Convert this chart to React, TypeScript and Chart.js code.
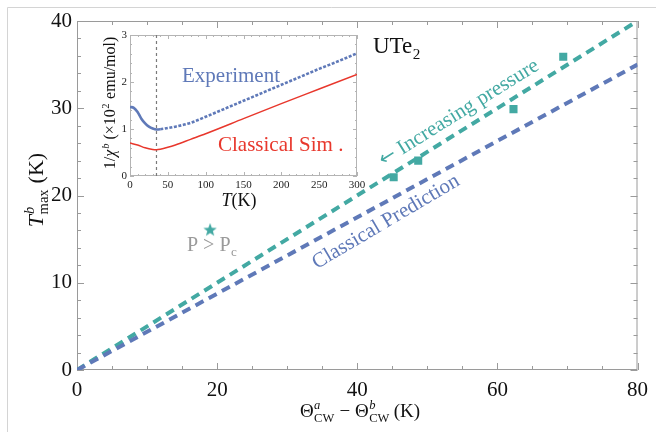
import React, { useEffect, useRef } from 'react';
import { Chart, registerables } from 'chart.js';
Chart.register(...registerables);

// ---------- main chart data ----------
const lineX = [0, 80];
const increasingLineY = [0, 40];
const classicalLineY = [0, 35];
const pressureX = [45.2, 48.7, 62.3, 69.4];
const pressureY = [22.1, 24.0, 29.9, 35.9];
const aboveX = [19.0];
const aboveY = [16.1];
const xTickLabels = [0, 20, 40, 60, 80];
const yTickLabels = [0, 10, 20, 30, 40];

// ---------- inset data ----------
const experimentT = [0, 5, 10, 15, 20, 25, 30, 35, 40, 50, 60, 80, 100, 125, 150, 175, 200, 225, 250, 275, 300];
const experimentChi = [1.47, 1.45, 1.36, 1.22, 1.12, 1.05, 1.01, 0.99, 0.995, 1.02, 1.05, 1.13, 1.26, 1.43, 1.6, 1.77, 1.94, 2.11, 2.28, 2.44, 2.61];
const simT = [0, 10, 20, 30, 35, 40, 50, 60, 80, 100, 150, 200, 250, 300];
const simChi = [0.7, 0.66, 0.6, 0.565, 0.56, 0.57, 0.61, 0.66, 0.78, 0.9, 1.22, 1.54, 1.85, 2.16];
const insetXTickLabels = [0, 50, 100, 150, 200, 250, 300];
const insetYTickLabels = [0, 1, 2, 3];
const minimumT = 35;

const TEAL = '#43a9a3';
const BLUE = '#5f79b8';
const RED = '#e8372c';
const FAM = "'Liberation Serif', 'DejaVu Serif', serif";

type Seg = { t: string; it?: boolean; sup?: string; supIt?: boolean; sub?: string; subIt?: boolean };

function fnt(size: number, it?: boolean) {
  return `${it ? 'italic ' : ''}${size}px ${FAM}`;
}

function segWidth(ctx: CanvasRenderingContext2D, s: Seg, base: number) {
  ctx.font = fnt(base, s.it);
  let w = ctx.measureText(s.t).width;
  const small = base * 0.66;
  let sw = 0;
  if (s.sup) { ctx.font = fnt(small, s.supIt); sw = Math.max(sw, ctx.measureText(s.sup).width); }
  if (s.sub) { ctx.font = fnt(small, s.subIt); sw = Math.max(sw, ctx.measureText(s.sub).width); }
  return w + sw + (sw ? 1 : 0);
}

function drawRich(ctx: CanvasRenderingContext2D, segs: Seg[], x: number, y: number, base: number, color: string, align: 'left' | 'center') {
  ctx.save();
  ctx.fillStyle = color;
  ctx.textBaseline = 'alphabetic';
  ctx.textAlign = 'left';
  const total = segs.reduce((a, s) => a + segWidth(ctx, s, base), 0);
  let cx = align === 'center' ? x - total / 2 : x;
  const small = base * 0.66;
  for (const s of segs) {
    ctx.font = fnt(base, s.it);
    ctx.fillText(s.t, cx, y);
    cx += ctx.measureText(s.t).width;
    let sw = 0;
    if (s.sup) {
      ctx.font = fnt(small, s.supIt);
      ctx.fillText(s.sup, cx + (s.it ? 1 : 0.5), y - base * 0.4);
      sw = Math.max(sw, ctx.measureText(s.sup).width);
    }
    if (s.sub) {
      ctx.font = fnt(small, s.subIt);
      ctx.fillText(s.sub, cx + 0.5, y + base * 0.24);
      sw = Math.max(sw, ctx.measureText(s.sub).width);
    }
    cx += sw + (sw ? 1 : 0);
  }
  ctx.restore();
}

function drawFrame(chart: any, color: string, xMajor: (v: number) => boolean, yMajor: (v: number) => boolean, majLen: number, minLen: number) {
  const { ctx, chartArea } = chart;
  const { left, right, top, bottom } = chartArea;
  ctx.save();
  ctx.strokeStyle = color;
  ctx.lineWidth = 1;
  ctx.strokeRect(left + 0.5, top + 0.5, right - left - 1, bottom - top - 1);
  ctx.beginPath();
  for (const t of chart.scales.x.ticks) {
    const p = Math.round(chart.scales.x.getPixelForValue(t.value)) + 0.5;
    const L = xMajor(t.value) ? majLen : minLen;
    ctx.moveTo(p, bottom); ctx.lineTo(p, bottom - L);
    ctx.moveTo(p, top); ctx.lineTo(p, top + L);
  }
  for (const t of chart.scales.y.ticks) {
    const p = Math.round(chart.scales.y.getPixelForValue(t.value)) + 0.5;
    const L = yMajor(t.value) ? majLen : minLen;
    ctx.moveTo(left, p); ctx.lineTo(left + L, p);
    ctx.moveTo(right, p); ctx.lineTo(right - L, p);
  }
  ctx.stroke();
  ctx.restore();
}

function makeStar(size: number, color: string) {
  const c = document.createElement('canvas');
  c.width = size; c.height = size;
  const g = c.getContext('2d')!;
  const cx = size / 2, cy = size / 2 + 0.6, R = size / 2, r = R * 0.42;
  g.beginPath();
  for (let i = 0; i < 10; i++) {
    const rad = i % 2 === 0 ? R : r;
    const a = -Math.PI / 2 + (i * Math.PI) / 5;
    const px = cx + rad * Math.cos(a), py = cy + rad * Math.sin(a);
    if (i === 0) g.moveTo(px, py); else g.lineTo(px, py);
  }
  g.closePath();
  g.fillStyle = color;
  g.fill();
  return c;
}

const isMult = (v: number, m: number) => Math.abs(v / m - Math.round(v / m)) < 1e-6;

function drawRotated(ctx: CanvasRenderingContext2D, cx: number, cy: number, deg: number, parts: { t: string; font: string }[], color: string) {
  ctx.save();
  ctx.translate(cx, cy);
  ctx.rotate(-deg * Math.PI / 180);
  ctx.fillStyle = color;
  ctx.textAlign = 'left';
  ctx.textBaseline = 'middle';
  let total = 0;
  for (const p of parts) { ctx.font = p.font; total += ctx.measureText(p.t).width; }
  let x = -total / 2;
  for (const p of parts) {
    ctx.font = p.font;
    ctx.fillText(p.t, x, 0);
    x += ctx.measureText(p.t).width;
  }
  ctx.restore();
}

export default function App() {
  const mainRef = useRef<HTMLCanvasElement>(null);
  const insetRef = useRef<HTMLCanvasElement>(null);

  useEffect(() => {
    document.body.style.margin = '0';
    const star = makeStar(14, TEAL);

    const mainPlugin = {
      id: 'mainDecor',
      beforeDraw(chart: any) {
        const ctx = chart.ctx;
        ctx.save();
        ctx.fillStyle = '#fff';
        ctx.fillRect(0, 0, chart.width, chart.height);
        ctx.strokeStyle = '#d4d4d4';
        ctx.lineWidth = 1;
        ctx.beginPath();
        ctx.moveTo(7.5, chart.height);
        ctx.lineTo(7.5, 7.5);
        ctx.lineTo(chart.width, 7.5);
        ctx.stroke();
        ctx.restore();
      },
      beforeDatasetsDraw(chart: any) {
        drawFrame(chart, '#9a9a9a', (v) => isMult(v, 20), (v) => isMult(v, 10), 7, 4);
      },
      afterDatasetsDraw(chart: any) {
        const ctx = chart.ctx;
        // y title
        ctx.save();
        ctx.translate(43, 190);
        ctx.rotate(-Math.PI / 2);
        drawRich(ctx, [{ t: 'T', it: true, sup: 'b', supIt: true, sub: 'max' }, { t: ' (K)' }], 0, 0, 22, '#111', 'center');
        ctx.restore();
        // x title
        drawRich(ctx, [
          { t: 'Θ', sup: 'a', supIt: true, sub: 'CW' },
          { t: ' − ' },
          { t: 'Θ', sup: 'b', supIt: true, sub: 'CW' },
          { t: '\u2009(K)' },
        ], 360, 417, 19, '#111', 'center');
        // UTe2
        drawRich(ctx, [{ t: 'UTe', sub: '2' }], 373, 53, 23, '#111', 'left');
        // P > Pc
        drawRich(ctx, [{ t: 'P > P', sub: 'c' }], 187, 251, 20, '#9a9a9a', 'left');
        // rotated labels
        drawRotated(ctx, 459, 113, 32, [
          { t: '\u2190', font: "20px 'DejaVu Sans', sans-serif" },
          { t: ' Increasing pressure', font: fnt(21) },
        ], TEAL);
        drawRotated(ctx, 386, 222, 30.5, [{ t: 'Classical Prediction', font: fnt(21) }], BLUE);
      },
    };

    const main = new Chart(mainRef.current!, {
      type: 'scatter',
      data: {
        datasets: [
          {
            data: lineX.map((x, i) => ({ x, y: classicalLineY[i] })),
            showLine: true, borderColor: BLUE, borderWidth: 4, borderDash: [9, 6], borderCapStyle: 'butt',
            pointRadius: 0, fill: false,
          },
          {
            data: lineX.map((x, i) => ({ x, y: increasingLineY[i] })),
            showLine: true, borderColor: TEAL, borderWidth: 4, borderDash: [9, 6], borderCapStyle: 'butt',
            pointRadius: 0, fill: false,
          },
          {
            data: pressureX.map((x, i) => ({ x, y: pressureY[i] })),
            showLine: false, pointStyle: 'rect', pointRadius: 5.7, backgroundColor: TEAL, borderColor: TEAL, borderWidth: 0,
          },
          {
            data: aboveX.map((x, i) => ({ x, y: aboveY[i] })),
            showLine: false, pointStyle: star as any, pointRadius: 7, backgroundColor: TEAL, borderColor: TEAL,
          },
        ],
      } as any,
      options: {
        animation: false,
        responsive: false,
        devicePixelRatio: 1,
        layout: { padding: { left: 0, right: 15, top: 21, bottom: 0 } },
        plugins: { legend: { display: false }, tooltip: { enabled: false } },
        scales: {
          x: {
            type: 'linear', min: 0, max: 80,
            grid: { display: false, drawTicks: false }, border: { display: false },
            ticks: {
              stepSize: 5, autoSkip: false, maxRotation: 0, padding: 8, color: '#111',
              font: { family: FAM, size: 21 },
              callback: (v: any) => (xTickLabels.includes(Number(v)) ? String(v) : ''),
            },
            afterFit: (s: any) => { s.height = 62; },
          },
          y: {
            type: 'linear', min: 0, max: 40,
            grid: { display: false, drawTicks: false }, border: { display: false },
            ticks: {
              stepSize: 2, autoSkip: false, padding: 5, color: '#111',
              font: { family: FAM, size: 21 },
              callback: (v: any) => (yTickLabels.includes(Number(v)) ? String(v) : ''),
            },
            afterFit: (s: any) => { s.width = 77; },
          },
        },
      } as any,
      plugins: [mainPlugin],
    });

    const insetPlugin = {
      id: 'insetDecor',
      beforeDatasetsDraw(chart: any) {
        const { ctx, chartArea } = chart;
        ctx.save();
        ctx.fillStyle = '#fff';
        ctx.fillRect(chartArea.left, chartArea.top, chartArea.right - chartArea.left, chartArea.bottom - chartArea.top);
        ctx.restore();
        drawFrame(chart, '#b4b4b4', (v) => isMult(v, 50), (v) => isMult(v, 1), 4, 2);
        const px = chart.scales.x.getPixelForValue(minimumT);
        ctx.save();
        ctx.strokeStyle = '#7a7a7a';
        ctx.lineWidth = 1.2;
        ctx.setLineDash([3, 3]);
        ctx.beginPath();
        ctx.moveTo(px, chartArea.bottom);
        ctx.lineTo(px, chartArea.top);
        ctx.stroke();
        ctx.restore();
      },
      afterDatasetsDraw(chart: any) {
        const ctx = chart.ctx;
        ctx.save();
        ctx.translate(35, 79);
        ctx.rotate(-Math.PI / 2);
        drawRich(ctx, [
          { t: '1/' },
          { t: 'χ', it: true, sup: 'b', supIt: true },
          { t: ' (×10', sup: '2' },
          { t: ' emu/mol)' },
        ], 0, 0, 16, '#111', 'center');
        ctx.restore();
        drawRich(ctx, [{ t: 'T', it: true }, { t: '(K)' }], 159, 182, 18, '#111', 'center');
        drawRich(ctx, [{ t: 'Experiment' }], 102, 58, 21, BLUE, 'left');
        drawRich(ctx, [{ t: 'Classical Sim .' }], 138, 127, 21, RED, 'left');
      },
    };

    const inset = new Chart(insetRef.current!, {
      type: 'scatter',
      data: {
        datasets: [
          {
            data: simT.map((x, i) => ({ x, y: simChi[i] })),
            showLine: true, borderColor: RED, borderWidth: 1.5, pointRadius: 0, cubicInterpolationMode: 'monotone',
          },
          {
            data: experimentT.map((x, i) => ({ x, y: experimentChi[i] })),
            showLine: true, borderColor: BLUE, borderWidth: 2.6, pointRadius: 0, cubicInterpolationMode: 'monotone',
            segment: { borderDash: (c: any) => (c.p0.parsed.x >= 40 ? [3, 1.6] : undefined) },
          },
        ],
      } as any,
      options: {
        animation: false,
        responsive: false,
        devicePixelRatio: 1,
        layout: { padding: { left: 0, right: 23, top: 11, bottom: 0 } },
        plugins: { legend: { display: false }, tooltip: { enabled: false } },
        scales: {
          x: {
            type: 'linear', min: 0, max: 300,
            grid: { display: false, drawTicks: false }, border: { display: false },
            ticks: {
              stepSize: 10, autoSkip: false, maxRotation: 0, padding: 3, color: '#222',
              font: { family: FAM, size: 11 },
              callback: (v: any) => (insetXTickLabels.includes(Number(v)) ? String(v) : ''),
            },
            afterFit: (s: any) => { s.height = 38; },
          },
          y: {
            type: 'linear', min: 0, max: 3,
            grid: { display: false, drawTicks: false }, border: { display: false },
            ticks: {
              stepSize: 0.2, autoSkip: false, padding: 3, color: '#222',
              font: { family: FAM, size: 11 },
              callback: (v: any) => {
                const n = Number(v);
                return insetYTickLabels.some((k) => Math.abs(k - n) < 1e-6) ? String(Math.round(n)) : '';
              },
            },
            afterFit: (s: any) => { s.width = 50; },
          },
        },
      } as any,
      plugins: [insetPlugin],
    });

    return () => {
      main.destroy();
      inset.destroy();
    };
  }, []);

  return (
    <div style={{ position: 'relative', width: 656, height: 432, background: '#fff', overflow: 'hidden' }}>
      <canvas ref={mainRef} width={656} height={432} style={{ position: 'absolute', left: 0, top: 0, width: 656, height: 432 }} />
      <canvas ref={insetRef} width={300} height={190} style={{ position: 'absolute', left: 80, top: 24, width: 300, height: 190 }} />
    </div>
  );
}
